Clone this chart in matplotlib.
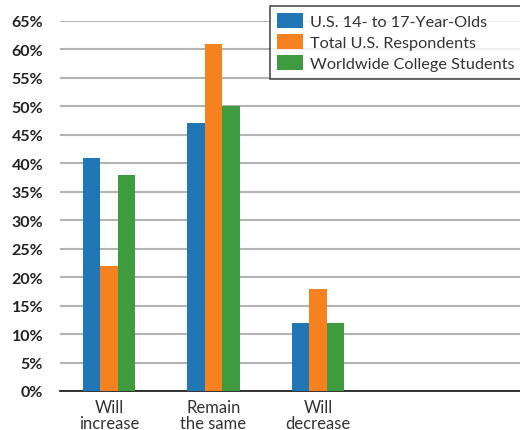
import numpy as np
from matplotlib import pyplot as plt
from matplotlib.ticker import FuncFormatter

categories = ['Will\nincrease', 'Remain\nthe same', 'Will\ndecrease']
series = ['U.S. 14- to 17-Year-Olds', 'Total U.S. Respondents', 'Worldwide College Students']
teens = [41, 47, 12]
total = [22, 61, 18]
college = [38, 50, 12]
colors = ['#2176b5', '#f5821f', '#3e9b3e']

plt.rcParams['font.family'] = ['Lato', 'DejaVu Sans']

fig = plt.figure(figsize=(5.2, 4.31), dpi=100)
ax = fig.add_axes([0.115, 0.0905, 0.885, 0.8585])

x = np.arange(len(categories))
w = 0.168
for i, (vals, name) in enumerate(zip([teens, total, college], series)):
    ax.bar(x + (i - 1) * w, vals, w, color=colors[i], label=name, zorder=3)

ax.set_ylim(0, 65)
ax.set_yticks(np.arange(0, 66, 5))
ax.yaxis.set_major_formatter(FuncFormatter(lambda v, p: f'{v:.0f}%'))
ax.set_xlim(-0.47, 3.93)
ax.set_xticks(x)
ax.set_xticklabels(categories, fontsize=12, color='#333333', linespacing=0.95)
ax.grid(axis='y', color='#b3b3b3', linewidth=1.5, zorder=0)
for s in ['top', 'right', 'left']:
    ax.spines[s].set_visible(False)
ax.spines['bottom'].set_color('#222222')
ax.spines['bottom'].set_linewidth(1.3)
ax.tick_params(axis='both', length=0)
ax.tick_params(axis='y', pad=12)
ax.tick_params(axis='x', pad=6)
for lbl in ax.get_yticklabels():
    lbl.set_fontsize(11.5)
    lbl.set_fontweight('bold')
    lbl.set_color('#222222')

leg = ax.legend(loc='upper right', bbox_to_anchor=(1.004, 0.984), bbox_transform=fig.transFigure,
                fontsize=11.7, frameon=True, fancybox=False, edgecolor='#222222',
                handlelength=1.6, handleheight=1.05, borderpad=0.45,
                labelspacing=0.3, handletextpad=0.45, borderaxespad=0)
leg.get_frame().set_linewidth(1.2)
for t in leg.get_texts():
    t.set_color('#333333')

fig.savefig('out.png', dpi=100)
